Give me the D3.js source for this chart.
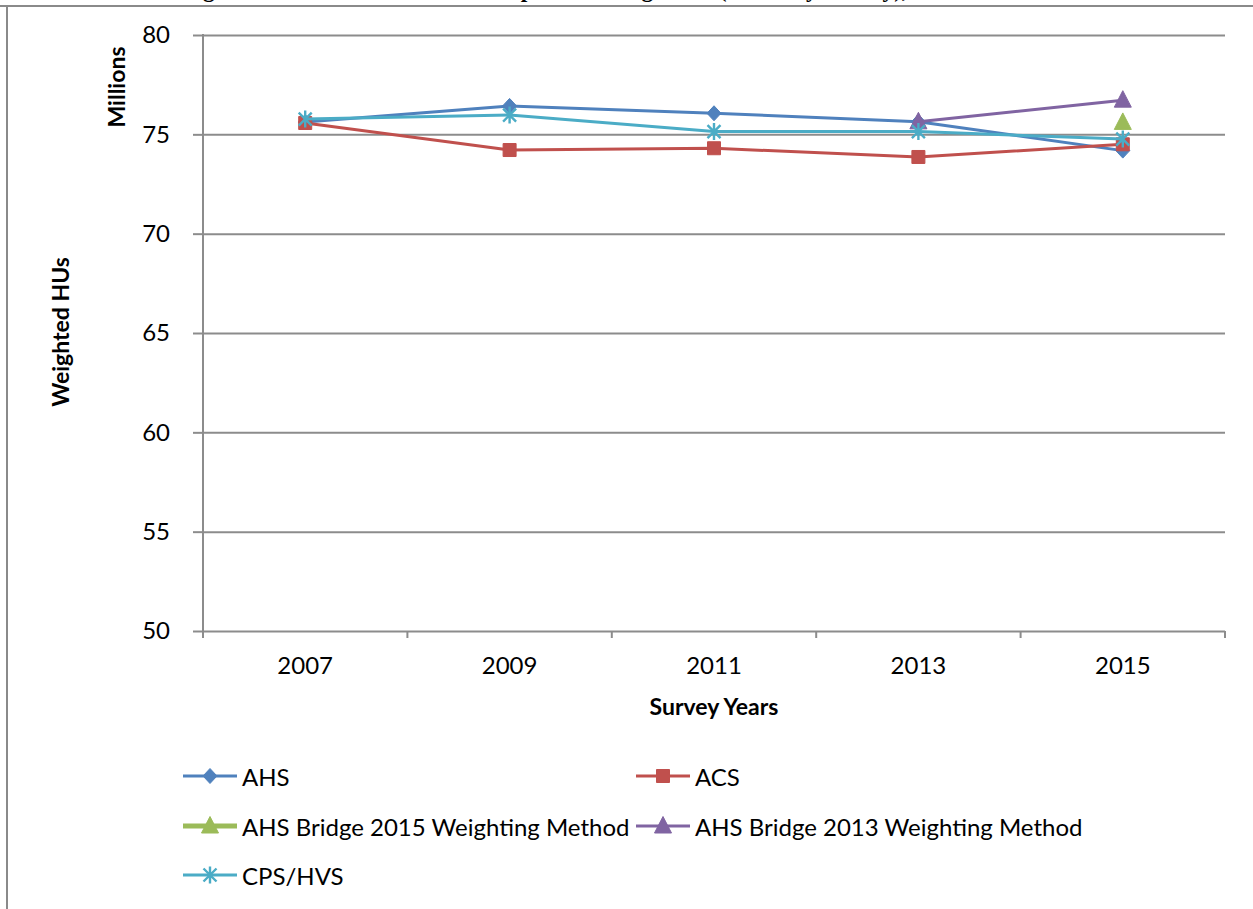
<!DOCTYPE html>
<html>
<head>
<meta charset="utf-8">
<script src="https://cdn.jsdelivr.net/npm/d3@7/dist/d3.min.js"></script>
<style>
  html, body { margin: 0; padding: 0; background: #fff; }
  svg { display: block; }
  text { font-family: Lato, "Open Sans", sans-serif; fill: #000; }
</style>
</head>
<body>
<svg id="chart" width="1253" height="909"></svg>
<script>
// Survey years on the category axis
const years = ["2007", "2009", "2011", "2013", "2015"];
const yTicks = [50, 55, 60, 65, 70, 75, 80];

// Weighted owner-occupied housing units, millions (null = not published)
const ahs        = [75.62, 76.43, 76.06, 75.63, 74.18];
const acs        = [75.57, 74.21, 74.30, 73.86, 74.50];
const bridge2015 = [null, null, null, null, 75.60];
const bridge2013 = [null, null, null, 75.63, 76.72];
const cpsHvs     = [75.77, 75.97, 75.14, 75.14, 74.76];

const seriesNames  = ["AHS", "ACS", "AHS Bridge 2015 Weighting Method", "AHS Bridge 2013 Weighting Method", "CPS/HVS"];
const seriesColors = ["#4F81BD", "#C0504D", "#9BBB59", "#8064A2", "#4BACC6"];
const seriesValues = [ahs, acs, bridge2015, bridge2013, cpsHvs];
const seriesMarks  = ["diamond", "square", "triangle", "triangle", "star"];

const titleText = "Figure 6. Number of Owner-Occupied Housing Units (Totals by Survey), 2007\u20132015";

const svg = d3.select("#chart");
const plotLeft = 203, plotRight = 1225, plotTop = 35, plotBottom = 631;

const x = d3.scaleBand().domain(years).range([plotLeft, plotRight]);
const y = d3.scaleLinear().domain([50, 80]).range([plotBottom, plotTop]);
const cx = d => x(d) + x.bandwidth() / 2;

// Title line above the chart frame (only its descenders fall inside the page)
const title = svg.append("text")
  .attr("y", -3)
  .style("font-family", "'Liberation Serif', 'Times New Roman', serif")
  .attr("font-weight", "bold")
  .attr("font-size", 22)
  .text(titleText);
{
  const node = title.node();
  const gIdx = titleText.indexOf("g");
  const yIdx = titleText.lastIndexOf("y)");
  const span = node.getStartPositionOfChar(yIdx).x - node.getStartPositionOfChar(gIdx).x;
  const fs = 22 * (887 - 207) / span;
  title.attr("font-size", fs);
  const gx = node.getStartPositionOfChar(gIdx).x;
  title.attr("x", 203 - gx);
}

// Chart frame
svg.append("path")
  .attr("d", "M0,6 H1253 M7,6 V909")
  .attr("fill", "none").attr("stroke", "#8a8a8a").attr("stroke-width", 2);

// Horizontal gridlines
const grid = svg.append("g")
  .attr("transform", `translate(${plotLeft},0)`)
  .call(d3.axisLeft(y).tickValues(yTicks).tickSize(-(plotRight - plotLeft)).tickFormat(""));
grid.select(".domain").remove();
grid.selectAll(".tick line").attr("stroke", "#8c8c8c").attr("stroke-width", 2);

// Value axis: tick stubs and labels
const yAxis = svg.append("g")
  .attr("transform", `translate(${plotLeft},0)`)
  .call(d3.axisLeft(y).tickValues(yTicks).tickSize(10).tickPadding(23));
yAxis.select(".domain").remove();
yAxis.selectAll(".tick line").attr("stroke", "#8c8c8c").attr("stroke-width", 2);
yAxis.selectAll(".tick text")
  .attr("font-size", 24).style("font-family", "Lato, sans-serif").attr("fill", "#000");

svg.append("line")
  .attr("x1", plotLeft).attr("x2", plotLeft).attr("y1", plotTop - 1).attr("y2", plotBottom + 7)
  .attr("stroke", "#8c8c8c").attr("stroke-width", 2);

// Category axis: labels at band centres, tick marks at band boundaries
const xAxis = svg.append("g")
  .attr("transform", `translate(0,${plotBottom})`)
  .call(d3.axisBottom(x).tickSize(0).tickPadding(26));
xAxis.select(".domain").remove();
xAxis.selectAll(".tick text")
  .attr("font-size", 24).style("font-family", "Lato, sans-serif").attr("fill", "#000");

const bounds = years.map(d => x(d)).concat([plotRight]);
svg.append("g").selectAll("line").data(bounds).join("line")
  .attr("x1", d => d).attr("x2", d => d)
  .attr("y1", plotBottom).attr("y2", plotBottom + 7)
  .attr("stroke", "#8c8c8c").attr("stroke-width", 2);

// Axis titles
svg.append("text")
  .attr("x", (plotLeft + plotRight) / 2).attr("y", 706)
  .attr("text-anchor", "middle").attr("dominant-baseline", "central")
  .attr("font-size", 23).attr("font-weight", "bold")
  .text("Survey Years");

svg.append("text")
  .attr("transform", "translate(60,332) rotate(-90)")
  .attr("text-anchor", "middle").attr("dominant-baseline", "central")
  .attr("font-size", 23).attr("font-weight", "bold")
  .text("Weighted HUs");

svg.append("text")
  .attr("transform", "translate(116,87) rotate(-90)")
  .attr("text-anchor", "middle").attr("dominant-baseline", "central")
  .attr("font-size", 23).attr("font-weight", "bold")
  .text("Millions");

// Marker shapes
function markerPath(kind) {
  switch (kind) {
    case "diamond":  return "M0,-7.5 L7,0 L0,7.5 L-7,0 Z";
    case "square":   return "M-6.5,-6.5 H6.5 V6.5 H-6.5 Z";
    case "triangle": return "M0,-9.5 L8.5,7 L-8.5,7 Z";
    case "star":     return "M-6.5,-6.5 L6.5,6.5 M-6.5,6.5 L6.5,-6.5 M0,-8.5 V8.5";
  }
}
function drawMarker(g, kind, color, px, py) {
  const p = g.append("path")
    .attr("transform", `translate(${px},${py})`)
    .attr("d", markerPath(kind));
  if (kind === "star") {
    p.attr("fill", "none").attr("stroke", color).attr("stroke-width", 2.4);
  } else {
    p.attr("fill", color).attr("stroke", color).attr("stroke-width", 1);
  }
}

const line = d3.line()
  .defined(d => d.v != null)
  .x(d => cx(d.year))
  .y(d => y(d.v));

// Series lines and markers
const plot = svg.append("g");
seriesValues.forEach((vals, i) => {
  const pts = years.map((yr, j) => ({ year: yr, v: vals[j] }));
  const g = plot.append("g");
  g.append("path")
    .datum(pts)
    .attr("fill", "none")
    .attr("stroke", seriesColors[i])
    .attr("stroke-width", 3)
    .attr("stroke-linejoin", "round")
    .attr("d", line);
  pts.filter(d => d.v != null).forEach(d => {
    drawMarker(g, seriesMarks[i], seriesColors[i], cx(d.year), y(d.v));
  });
});

// Legend
const legendPos = [
  { x: 183, y: 776 }, { x: 636, y: 776 },
  { x: 183, y: 826 }, { x: 636, y: 826 },
  { x: 183, y: 875 }
];
const legend = svg.append("g");
seriesNames.forEach((name, i) => {
  const p = legendPos[i];
  const g = legend.append("g");
  g.append("line")
    .attr("x1", p.x).attr("x2", p.x + 54)
    .attr("y1", p.y).attr("y2", p.y)
    .attr("stroke", seriesColors[i])
    .attr("stroke-width", i === 2 ? 5 : 3);
  drawMarker(g, seriesMarks[i], seriesColors[i], p.x + 27, p.y);
  g.append("text")
    .attr("x", p.x + 59).attr("y", p.y)
    .attr("dominant-baseline", "central")
    .attr("font-size", 24)
    .text(name);
});
</script>
</body>
</html>
